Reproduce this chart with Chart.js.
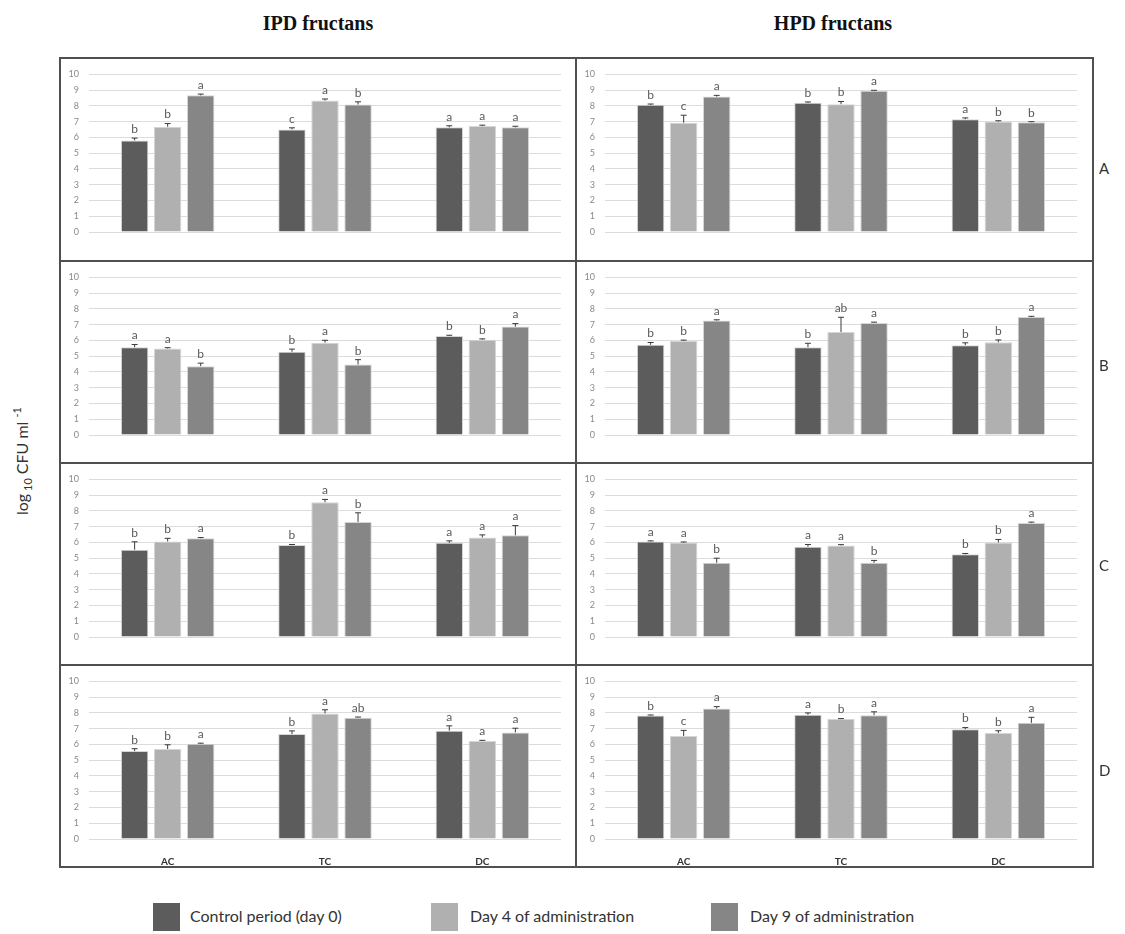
<!DOCTYPE html>
<html lang="en">
<head>
    <meta charset="UTF-8" />
    <script src="https://cdn.jsdelivr.net/npm/chart.js"></script>
    <title>IPD / HPD fructans</title>
    <style>
        body {
            margin: 0;
            width: 1125px;
            height: 934px;
            position: relative;
            background: #ffffff;
            font-family: Lato, "Open Sans", sans-serif;
            overflow: hidden;
        }
        .title {
            position: absolute;
            top: 12px;
            width: 300px;
            text-align: center;
            font-family: "Liberation Serif", "DejaVu Serif", serif;
            font-weight: bold;
            font-size: 20px;
            color: #111;
        }
        canvas { position: absolute; }
        .frame { position: absolute; border: 2px solid #505050; box-sizing: border-box; }
        .line { position: absolute; background: #505050; }
        .rowlab { position: absolute; left: 1099px; font-size: 15px; color: #333; }
        .ytitle {
            position: absolute;
            left: 22px;
            top: 461px;
            transform: translate(-50%, -50%) rotate(-90deg);
            white-space: nowrap;
            font-size: 16px;
            color: #333;
        }
        .ytitle sub, .ytitle sup { font-size: 11px; }
        .leg { position: absolute; top: 903px; width: 27px; height: 28px; }
        .legtxt { position: absolute; top: 906px; font-size: 16px; color: #333; white-space: nowrap; }
    </style>
</head>
<body>

<div class="title" style="left:168px">IPD fructans</div>
<div class="title" style="left:683px">HPD fructans</div>

<div class="ytitle">log<sub> 10</sub> CFU ml <sup>-1</sup></div>

<canvas id="ipdA" width="514" height="200" style="left:61px;top:59px"></canvas>
<canvas id="hpdA" width="514" height="200" style="left:577px;top:59px"></canvas>
<canvas id="ipdB" width="514" height="200" style="left:61px;top:262px"></canvas>
<canvas id="hpdB" width="514" height="200" style="left:577px;top:262px"></canvas>
<canvas id="ipdC" width="514" height="200" style="left:61px;top:464px"></canvas>
<canvas id="hpdC" width="514" height="200" style="left:577px;top:464px"></canvas>
<canvas id="ipdD" width="514" height="200" style="left:61px;top:666px"></canvas>
<canvas id="hpdD" width="514" height="200" style="left:577px;top:666px"></canvas>

<!-- marcos de los paneles -->
<div class="frame" style="left:59px;top:57px;width:1035px;height:811px"></div>
<div class="line" style="left:575px;top:57px;width:2px;height:811px"></div>
<div class="line" style="left:59px;top:260px;width:1035px;height:2px"></div>
<div class="line" style="left:59px;top:462px;width:1035px;height:2px"></div>
<div class="line" style="left:59px;top:664px;width:1035px;height:2px"></div>

<div class="rowlab" style="top:159px">A</div>
<div class="rowlab" style="top:356px">B</div>
<div class="rowlab" style="top:556px">C</div>
<div class="rowlab" style="top:761px">D</div>

<div class="leg" style="left:153px;background:#5c5c5c"></div>
<div class="legtxt" style="left:190px">Control period (day 0)</div>
<div class="leg" style="left:431px;background:#b0b0b0"></div>
<div class="legtxt" style="left:470px">Day 4 of administration</div>
<div class="leg" style="left:711px;background:#868686"></div>
<div class="legtxt" style="left:750px">Day 9 of administration</div>

<script>
    const categories = ['AC', 'TC', 'DC'];
    const seriesNames = ['Control period (day 0)', 'Day 4 of administration', 'Day 9 of administration'];
    const seriesColors = ['#5c5c5c', '#b0b0b0', '#868686'];

    // medias por serie: [control, dia 4, dia 9], cada una con AC, TC, DC
    const ipdA_means = [[5.81, 6.51, 6.64], [6.68, 8.34, 6.72], [8.67, 8.09, 6.64]];
    const ipdA_errs  = [[0.15, 0.10, 0.10], [0.20, 0.10, 0.06], [0.08, 0.17, 0.07]];
    const ipdA_sig   = [['b', 'c', 'a'], ['b', 'a', 'a'], ['a', 'b', 'a']];

    const hpdA_means = [[8.07, 8.20, 7.16], [6.93, 8.11, 7.01], [8.59, 8.96, 6.97]];
    const hpdA_errs  = [[0.05, 0.05, 0.08], [0.48, 0.17, 0.05], [0.08, 0.03, 0.03]];
    const hpdA_sig   = [['b', 'b', 'a'], ['c', 'b', 'b'], ['a', 'a', 'b']];

    const ipdB_means = [[5.57, 5.28, 6.28], [5.49, 5.86, 6.05], [4.37, 4.47, 6.88]];
    const ipdB_errs  = [[0.17, 0.17, 0.05], [0.05, 0.15, 0.05], [0.19, 0.31, 0.19]];
    const ipdB_sig   = [['a', 'b', 'b'], ['a', 'a', 'b'], ['b', 'b', 'a']];

    const hpdB_means = [[5.72, 5.57, 5.70], [5.97, 6.53, 5.88], [7.26, 7.11, 7.48]];
    const hpdB_errs  = [[0.15, 0.25, 0.15], [0.05, 0.94, 0.15], [0.05, 0.05, 0.05]];
    const hpdB_sig   = [['b', 'b', 'b'], ['b', 'ab', 'b'], ['a', 'a', 'a']];

    const ipdC_means = [[5.54, 5.83, 5.98], [6.06, 8.55, 6.31], [6.27, 7.30, 6.45]];
    const ipdC_errs  = [[0.50, 0.04, 0.12], [0.20, 0.18, 0.17], [0.04, 0.58, 0.62]];
    const ipdC_sig   = [['b', 'b', 'a'], ['b', 'a', 'a'], ['a', 'b', 'a']];

    const hpdC_means = [[6.06, 5.73, 5.25], [6.00, 5.81, 6.00], [4.71, 4.71, 7.24]];
    const hpdC_errs  = [[0.04, 0.14, 0.05], [0.03, 0.05, 0.19], [0.29, 0.15, 0.05]];
    const hpdC_sig   = [['a', 'a', 'b'], ['a', 'a', 'b'], ['b', 'b', 'a']];

    const ipdD_means = [[5.58, 6.66, 6.87], [5.71, 7.97, 6.22], [6.04, 7.70, 6.76]];
    const ipdD_errs  = [[0.15, 0.20, 0.31], [0.27, 0.23, 0.04], [0.04, 0.04, 0.27]];
    const ipdD_sig   = [['b', 'b', 'a'], ['b', 'a', 'a'], ['a', 'ab', 'a']];

    const hpdD_means = [[7.84, 7.88, 6.97], [6.54, 7.61, 6.72], [8.28, 7.86, 7.37]];
    const hpdD_errs  = [[0.03, 0.12, 0.10], [0.35, 0.03, 0.15], [0.12, 0.21, 0.35]];
    const hpdD_sig   = [['b', 'a', 'b'], ['c', 'b', 'b'], ['a', 'a', 'a']];

    // barras de error (solo hacia arriba) y letras de significancia
    const errorBarsPlugin = {
        id: 'errorBars',
        afterDatasetsDraw(chart) {
            const ctx = chart.ctx;
            const yScale = chart.scales.y;
            ctx.save();
            chart.data.datasets.forEach((ds, i) => {
                const meta = chart.getDatasetMeta(i);
                meta.data.forEach((bar, j) => {
                    const top = yScale.getPixelForValue(ds.data[j] + ds.errs[j]);
                    ctx.strokeStyle = '#3a3a3a';
                    ctx.lineWidth = 1;
                    ctx.beginPath();
                    ctx.moveTo(bar.x, bar.y);
                    ctx.lineTo(bar.x, top);
                    ctx.moveTo(bar.x - 3, top);
                    ctx.lineTo(bar.x + 3, top);
                    ctx.stroke();

                    ctx.fillStyle = '#5a5a5a';
                    ctx.font = '12px Lato, sans-serif';
                    ctx.textAlign = 'center';
                    ctx.textBaseline = 'bottom';
                    ctx.fillText(ds.sig[j], bar.x, top - 3);
                });
            });
            ctx.restore();
        }
    };

    function makePanel(id, means, errs, sig, showLabels) {
        const ctx = document.getElementById(id).getContext('2d');
        return new Chart(ctx, {
            type: 'bar',
            data: {
                labels: categories,
                datasets: seriesNames.map((name, i) => ({
                    label: name,
                    data: means[i],
                    errs: errs[i],
                    sig: sig[i],
                    backgroundColor: seriesColors[i],
                    borderColor: '#d6d6d6',
                    borderWidth: 1,
                    categoryPercentage: 0.63,
                    barPercentage: 0.83
                }))
            },
            options: {
                responsive: false,
                animation: false,
                layout: { padding: { top: 13, right: 14, left: 0, bottom: 0 } },
                plugins: {
                    legend: { display: false },
                    tooltip: { enabled: false }
                },
                scales: {
                    x: {
                        grid: { display: false },
                        border: { display: false },
                        ticks: {
                            display: showLabels,
                            padding: 9,
                            color: '#333',
                            font: { size: 10, weight: 'bold', family: 'Lato, sans-serif' }
                        },
                        afterFit(scale) { scale.height = 27; }
                    },
                    y: {
                        min: 0,
                        max: 10,
                        border: { display: false },
                        grid: { color: '#dcdcdc', drawTicks: false },
                        ticks: {
                            stepSize: 1,
                            padding: 10,
                            color: '#8a8a8a',
                            font: { size: 9, family: 'Lato, sans-serif' }
                        },
                        afterFit(scale) { scale.width = 28; }
                    }
                }
            },
            plugins: [errorBarsPlugin]
        });
    }

    makePanel('ipdA', ipdA_means, ipdA_errs, ipdA_sig, false);
    makePanel('hpdA', hpdA_means, hpdA_errs, hpdA_sig, false);
    makePanel('ipdB', ipdB_means, ipdB_errs, ipdB_sig, false);
    makePanel('hpdB', hpdB_means, hpdB_errs, hpdB_sig, false);
    makePanel('ipdC', ipdC_means, ipdC_errs, ipdC_sig, false);
    makePanel('hpdC', hpdC_means, hpdC_errs, hpdC_sig, false);
    makePanel('ipdD', ipdD_means, ipdD_errs, ipdD_sig, true);
    makePanel('hpdD', hpdD_means, hpdD_errs, hpdD_sig, true);
</script>
</body>
</html>
